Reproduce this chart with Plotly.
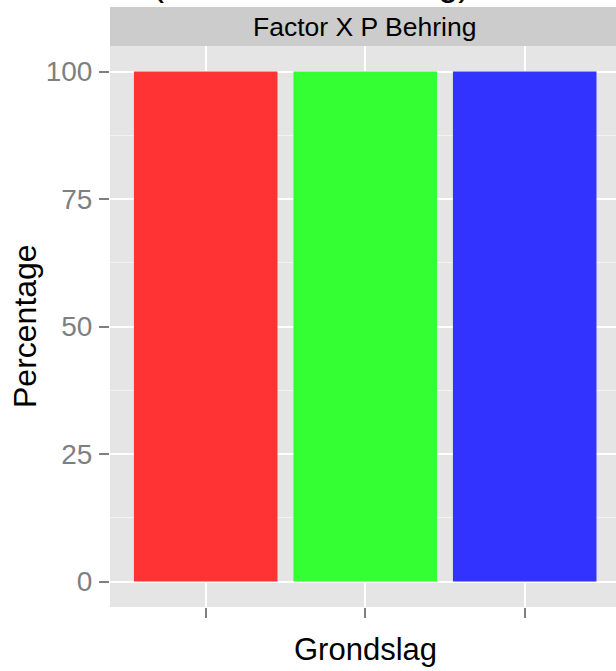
import plotly.graph_objects as go

# Data
categories = ["A", "B", "C"]
percentages = [100, 100, 100]
bar_colors = ["#FF3333", "#33FF33", "#3333FF"]
y_ticks = [0, 25, 50, 75, 100]
y_ticklabels = ["0", "25", "50", "75", "100"]
panel_title = "Factor X P Behring"
x_title = "Grondslag"
y_title = "Percentage"
main_title = "(Totale beoordeling)"

FONT = "Liberation Sans, Arial, sans-serif"

fig = go.Figure()
fig.add_trace(go.Bar(
    x=categories, y=percentages, width=0.9,
    marker=dict(color=bar_colors, line=dict(width=0)),
    showlegend=False, hoverinfo="skip",
))

W, H = 616, 671
L, R, T, B = 110, 0, 46, 64
ph = H - T - B
pw = W - L - R

def py(p):  # pixel y -> paper y
    return (H - B - p) / ph

def px(p):  # pixel x -> paper x
    return (p - L) / pw

fig.update_layout(
    width=W, height=H,
    margin=dict(l=L, r=R, t=T, b=B, pad=0),
    paper_bgcolor="white",
    plot_bgcolor="#E5E5E5",
    font=dict(family=FONT),
    bargap=0.1,
    xaxis=dict(
        type="category",
        range=[-0.6, -0.6 + pw / 159.5],
        showgrid=True, gridcolor="white", gridwidth=2,
        showticklabels=False,
        ticks="outside", ticklen=10, tickwidth=2, tickcolor="#7F7F7F",
        zeroline=False, showline=False,
        fixedrange=True,
    ),
    yaxis=dict(
        range=[-5, 105],
        tickvals=y_ticks, ticktext=y_ticklabels,
        showgrid=True, gridcolor="white", gridwidth=2,
        minor=dict(dtick=12.5, tick0=0, showgrid=True, gridcolor="#F2F2F2", gridwidth=1, ticklen=0),
        ticks="outside", ticklen=10, tickwidth=2, tickcolor="#7F7F7F",
        tickfont=dict(size=28, color="#7F7F7F", family=FONT),
        ticklabelstandoff=1,
        zeroline=False, showline=False,
        fixedrange=True,
    ),
    shapes=[dict(
        type="rect", xref="paper", yref="paper",
        x0=0, x1=1.01, y0=1, y1=py(7),
        fillcolor="#CCCCCC", line=dict(width=0), layer="below",
    )],
    annotations=[
        dict(text=panel_title, xref="paper", yref="paper",
             x=px(364), y=py(27), xanchor="center", yanchor="middle",
             showarrow=False, font=dict(size=26.5, color="black", family=FONT)),
        dict(text=x_title, xref="paper", yref="paper",
             x=px(365), y=py(649), xanchor="center", yanchor="middle",
             showarrow=False, font=dict(size=31, color="black", family=FONT)),
        dict(text=y_title, xref="paper", yref="paper",
             x=px(25), y=py(326), xanchor="center", yanchor="middle",
             textangle=-90,
             showarrow=False, font=dict(size=32, color="black", family=FONT)),
        dict(text=main_title, xref="paper", yref="paper",
             x=px(311), y=py(-18), xanchor="center", yanchor="middle",
             showarrow=False, font=dict(size=36, color="black", family=FONT)),
    ],
)

fig.write_html(
    "out.html",
    config={"displayModeBar": False, "staticPlot": True},
    post_script="document.body.style.margin='0';document.body.style.overflow='hidden';",
)
